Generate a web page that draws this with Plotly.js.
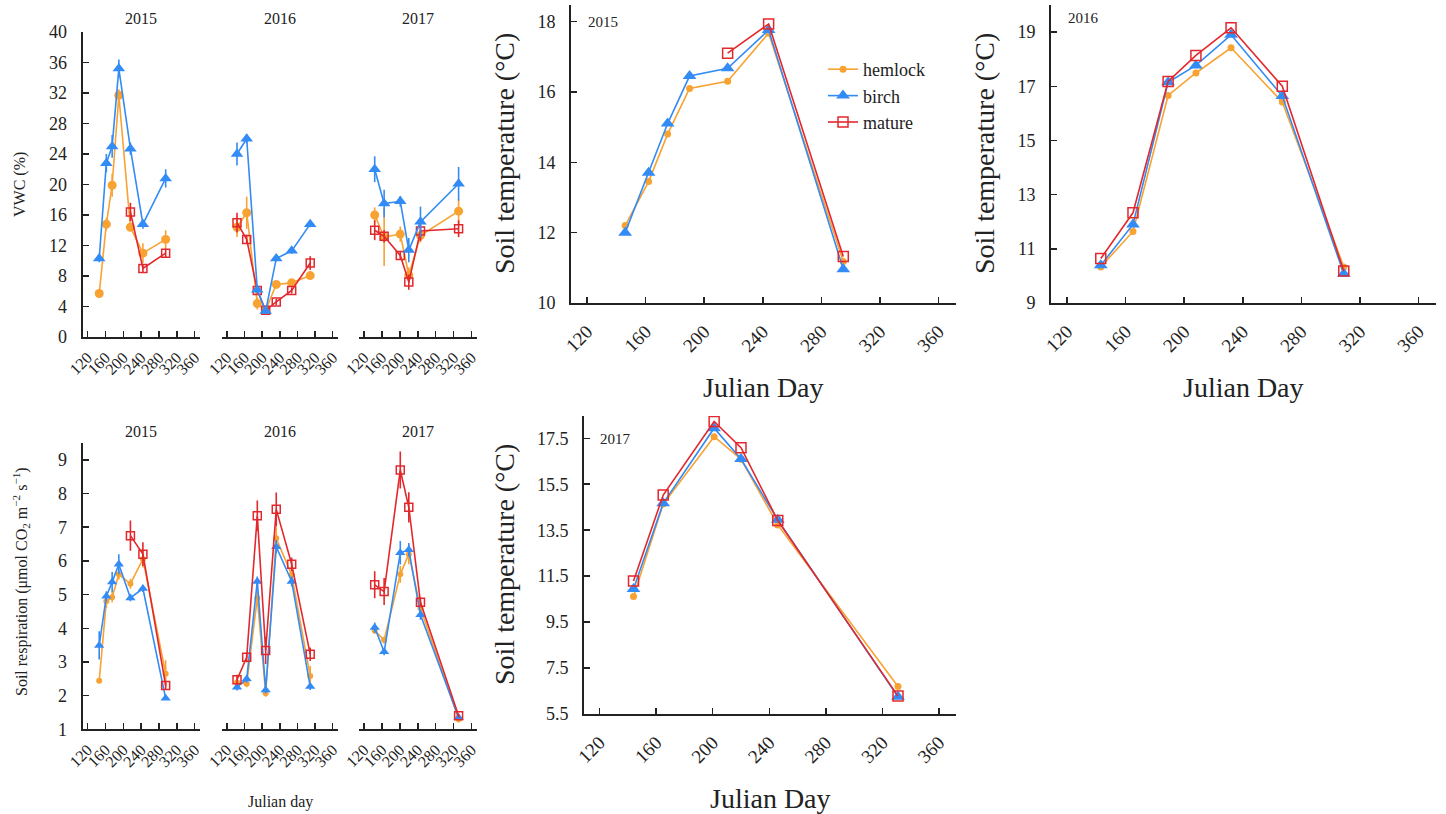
<!DOCTYPE html>
<html><head><meta charset="utf-8">
<script src="https://cdn.plot.ly/plotly-3.0.1.min.js"></script>
<style>html,body{margin:0;padding:0;background:#fff}#chart{width:1446px;height:814px}</style>
</head><body><div id="chart"></div>
<script>
// ---- Julian days of sampling ----
const days2015 = [146, 162, 175, 190, 216, 244, 295];
const days2016 = [143, 165, 189, 208, 232, 267, 309];
const days2017 = [144, 165, 201, 220, 246, 331];

// ---- VWC (%) ----
const vwcHemlock2015 = [5.7, 14.8, 19.9, 31.7, 14.4, 11.0, 12.8];
const vwcBirch2015   = [10.3, 22.8, 25.0, 35.2, 24.7, 14.8, 20.8];
const vwcMature2015  = [null, null, null, null, 16.4, 9.0, 11.0];
const vwcHemlockErr2015 = [0.3, 0.8, 1.5, 0.8, 0.5, 1.3, 1.2];
const vwcBirchErr2015   = [0.5, 1.2, 1.5, 1.2, 0.8, 0.6, 1.2];
const vwcMatureErr2015  = [0, 0, 0, 0, 1.2, 0.5, 0.6];

const vwcHemlock2016 = [14.4, 16.3, 4.4, 3.5, 6.9, 7.1, 8.05];
const vwcBirch2016   = [24.0, 26.0, 6.2, 3.4, 10.3, 11.3, 14.8];
const vwcMature2016  = [15.0, 12.8, 6.1, 3.5, 4.6, 6.1, 9.7];
const vwcHemlockErr2016 = [1.3, 2.1, 0.8, 0.4, 0.4, 0.4, 0.4];
const vwcBirchErr2016   = [1.5, 0.6, 0.4, 0.4, 0.4, 0.4, 0.4];
const vwcMatureErr2016  = [1.3, 0.6, 0.4, 0.4, 0.4, 0.4, 0.9];

const vwcHemlock2017 = [16.0, 13.1, 13.5, 8.1, 13.3, 16.5];
const vwcBirch2017   = [22.0, 17.5, 17.8, 11.4, 15.1, 20.1];
const vwcMature2017  = [14.0, 13.2, 10.7, 7.2, 13.9, 14.2];
const vwcHemlockErr2017 = [1.0, 3.8, 1.0, 1.0, 0.9, 1.6];
const vwcBirchErr2017   = [1.7, 1.8, 0.7, 1.6, 2.0, 2.2];
const vwcMatureErr2017  = [1.3, 0.8, 0.6, 1.0, 1.3, 1.1];

// ---- Soil respiration (umol CO2 m-2 s-1) ----
const resHemlock2015 = [2.44, 4.8, 4.92, 5.6, 5.32, 6.05, 2.65];
const resBirch2015   = [3.49, 4.95, 5.37, 5.9, 4.9, 5.18, 1.92];
const resMature2015  = [null, null, null, null, 6.75, 6.2, 2.3];
const resHemlockErr2015 = [0, 0.2, 0.15, 0.15, 0.15, 0.25, 0.4];
const resBirchErr2015   = [0.42, 0.15, 0.3, 0.3, 0.1, 0.1, 0.05];
const resMatureErr2015  = [0, 0, 0, 0, 0.45, 0.35, 0.1];

const resHemlock2016 = [2.39, 2.35, 4.9, 2.07, 6.67, 5.58, 2.58];
const resBirch2016   = [2.25, 2.49, 5.39, 2.17, 6.42, 5.39, 2.27];
const resMature2016  = [2.47, 3.14, 7.34, 3.34, 7.53, 5.9, 3.23];
const resHemlockErr2016 = [0.1, 0.1, 0.2, 0.1, 0.35, 0.15, 0.3];
const resBirchErr2016   = [0.1, 0.1, 0.15, 0.1, 0.2, 0.15, 0.1];
const resMatureErr2016  = [0.15, 0.15, 0.45, 0.4, 0.5, 0.2, 0.2];

const resHemlock2017 = [3.93, 3.65, 5.6, 6.2, 4.6, 1.3];
const resBirch2017   = [4.02, 3.3, 6.24, 6.33, 4.4, 1.35];
const resMature2017  = [5.29, 5.09, 8.7, 7.59, 4.77, 1.4];
const resHemlockErr2017 = [0.1, 0.1, 0.25, 0.3, 0.15, 0.1];
const resBirchErr2017   = [0.15, 0.1, 0.35, 0.2, 0.15, 0.05];
const resMatureErr2017  = [0.4, 0.4, 0.55, 0.45, 0.15, 0.05];

// ---- Soil temperature (°C) ----
const tmpHemlock2015 = [12.2, 13.45, 14.8, 16.1, 16.3, 17.67, 11.18];
const tmpBirch2015   = [12.0, 13.7, 15.1, 16.45, 16.67, 17.76, 10.96];
const tmpMature2015  = [null, null, null, null, 17.1, 17.93, 11.32];

const tmpHemlock2016 = [10.33, 11.64, 16.66, 17.49, 18.42, 16.42, 10.33];
const tmpBirch2016   = [10.39, 11.9, 17.15, 17.77, 18.9, 16.64, 10.08];
const tmpMature2016  = [10.64, 12.33, 17.18, 18.14, 19.16, 17.0, 10.18];

const tmpHemlock2017 = [10.61, 14.64, 17.57, 16.59, 13.73, 6.7];
const tmpBirch2017   = [10.94, 14.67, 17.94, 16.6, 13.95, 6.25];
const tmpMature2017  = [11.29, 15.03, 18.23, 17.09, 13.92, 6.28];

const seriesNames = ['hemlock', 'birch', 'mature'];
const xTickVals = [120, 160, 200, 240, 280, 320, 360];

// ---- styling ----
const C = {hemlock: '#F8A232', birch: '#338BF5', mature: '#E2282C'};
const FONT = 'Liberation Serif';
const W = 1446, H = 814;
const px = v => v / W, py = v => 1 - v / H;

function mk(name, x, y, err, ax, kind, showlegend) {
  const sizes = {
    small: {hemlock: 9, birch: 11, mature: 8},
    res:   {hemlock: 6, birch: 9, mature: 8},
    temp:  {hemlock: 7, birch: 12, mature: 10}
  }[kind];
  const sym = {hemlock: 'circle', birch: 'triangle-up', mature: 'square-open'}[name];
  const t = {
    type: 'scatter', mode: 'lines+markers', name: name, x: x, y: y,
    xaxis: 'x' + ax, yaxis: 'y' + ax, showlegend: !!showlegend, legendgroup: name,
    line: {color: C[name], width: 1.6},
    marker: {symbol: sym, size: sizes[name], color: C[name], line: {color: C[name], width: name === 'mature' ? 1.5 : 0}},
    connectgaps: false, hoverinfo: 'x+y'
  };
  if (err) t.error_y = {type: 'data', array: err, visible: true, color: C[name], thickness: 1.6, width: 0};
  return t;
}

const traces = [];
// VWC
[[days2015, vwcHemlock2015, vwcBirch2015, vwcMature2015, vwcHemlockErr2015, vwcBirchErr2015, vwcMatureErr2015, ''],
 [days2016, vwcHemlock2016, vwcBirch2016, vwcMature2016, vwcHemlockErr2016, vwcBirchErr2016, vwcMatureErr2016, '2'],
 [days2017, vwcHemlock2017, vwcBirch2017, vwcMature2017, vwcHemlockErr2017, vwcBirchErr2017, vwcMatureErr2017, '3']
].forEach(p => {
  traces.push(mk('hemlock', p[0], p[1], p[4], p[7], 'small'));
  traces.push(mk('mature', p[0], p[3], p[6], p[7], 'small'));
  traces.push(mk('birch', p[0], p[2], p[5], p[7], 'small'));
});
// respiration
[[days2015, resHemlock2015, resBirch2015, resMature2015, resHemlockErr2015, resBirchErr2015, resMatureErr2015, '4'],
 [days2016, resHemlock2016, resBirch2016, resMature2016, resHemlockErr2016, resBirchErr2016, resMatureErr2016, '5'],
 [days2017, resHemlock2017, resBirch2017, resMature2017, resHemlockErr2017, resBirchErr2017, resMatureErr2017, '6']
].forEach(p => {
  traces.push(mk('hemlock', p[0], p[1], p[4], p[7], 'res'));
  traces.push(mk('birch', p[0], p[2], p[5], p[7], 'res'));
  traces.push(mk('mature', p[0], p[3], p[6], p[7], 'res'));
});
// temperature
[[days2015, tmpHemlock2015, tmpBirch2015, tmpMature2015, '7', true],
 [days2016, tmpHemlock2016, tmpBirch2016, tmpMature2016, '8', false],
 [days2017, tmpHemlock2017, tmpBirch2017, tmpMature2017, '9', false]
].forEach(p => {
  traces.push(mk('hemlock', p[0], p[1], null, p[4], 'temp', p[5]));
  traces.push(mk('birch', p[0], p[2], null, p[4], 'temp', p[5]));
  traces.push(mk('mature', p[0], p[3], null, p[4], 'temp', p[5]));
});

function xax(domain, anchor, fs, standoff) {
  return {
    domain: domain, anchor: anchor, range: [109, 372], tickvals: xTickVals, ticktext: xTickVals.map(String),
    tickangle: -45, ticks: 'inside', ticklen: 6, tickwidth: 1.5, tickcolor: '#222',
    showline: true, linecolor: '#222', linewidth: 2, showgrid: false, zeroline: false,
    tickfont: {family: FONT, size: fs, color: '#222'}, ticklabelstandoff: standoff
  };
}
function yax(domain, anchor, range, tickvals, fs, visible, fmt) {
  const tv = visible ? tickvals : [];
  return {
    domain: domain, anchor: anchor, range: range, tickvals: tv,
    ticktext: tv.map(v => fmt ? v.toFixed(1) : String(v)),
    ticks: visible ? 'inside' : '', ticklen: 6, tickwidth: 1.5, tickcolor: '#222',
    showline: visible, linecolor: '#222', linewidth: 2, showgrid: false, zeroline: false,
    showticklabels: visible, tickfont: {family: FONT, size: fs, color: '#222'}, ticklabelstandoff: 10
  };
}

const dxV15 = [px(82.7), px(200)], dxV16 = [px(222), px(338)], dxV17 = [px(359), px(477)];
const dyV = [py(337), py(32)], dyR = [py(729.3), py(443)];
const dxT15 = [px(571), px(956)], dxT16 = [px(1051), px(1436)], dxT17 = [px(584), px(956)];
const dyT = [py(303), py(5)], dyT17 = [py(714), py(416)];

const vwcTicks = [0, 4, 8, 12, 16, 20, 24, 28, 32, 36, 40];
const resTicks = [1, 2, 3, 4, 5, 6, 7, 8, 9];

const layout = {
  width: W, height: H, margin: {l: 0, r: 0, t: 0, b: 0},
  paper_bgcolor: '#fff', plot_bgcolor: 'rgba(0,0,0,0)',
  font: {family: FONT, color: '#222'},
  xaxis: xax(dxV15, 'y', 16, 3), yaxis: yax(dyV, 'x', [0, 40], vwcTicks, 18, true),
  xaxis2: xax(dxV16, 'y2', 16, 3), yaxis2: yax(dyV, 'x2', [0, 40], vwcTicks, 18, false),
  xaxis3: xax(dxV17, 'y3', 16, 3), yaxis3: yax(dyV, 'x3', [0, 40], vwcTicks, 18, false),
  xaxis4: xax(dxV15, 'y4', 16, 3), yaxis4: yax(dyR, 'x4', [1, 9.5], resTicks, 18, true),
  xaxis5: xax(dxV16, 'y5', 16, 3), yaxis5: yax(dyR, 'x5', [1, 9.5], resTicks, 18, false),
  xaxis6: xax(dxV17, 'y6', 16, 3), yaxis6: yax(dyR, 'x6', [1, 9.5], resTicks, 18, false),
  xaxis7: xax(dxT15, 'y7', 19, 8), yaxis7: yax(dyT, 'x7', [10, 18.47], [10, 12, 14, 16, 18], 18, true),
  xaxis8: xax(dxT16, 'y8', 19, 8), yaxis8: yax(dyT, 'x8', [9, 20], [9, 11, 13, 15, 17, 19], 18, true),
  xaxis9: xax(dxT17, 'y9', 19, 8), yaxis9: yax(dyT17, 'x9', [5.5, 18.47], [5.5, 7.5, 9.5, 11.5, 13.5, 15.5, 17.5], 18, true, true),
  showlegend: true,
  legend: {x: px(823), y: py(51), xanchor: 'left', yanchor: 'top', bgcolor: 'rgba(0,0,0,0)',
           font: {family: FONT, size: 18, color: '#222'}, itemwidth: 30, tracegroupgap: 0, traceorder: 'normal'},
  annotations: []
};

function ann(text, x, y, size, angle, extra) {
  layout.annotations.push(Object.assign({text: text, x: px(x), y: py(y), xref: 'paper', yref: 'paper',
    xanchor: 'center', yanchor: 'middle', showarrow: false, textangle: angle || 0,
    font: {family: FONT, size: size, color: '#222'}}, extra || {}));
}
// small panel year titles
ann('2015', 141, 18, 16); ann('2016', 280, 18, 16); ann('2017', 418, 18, 16);
ann('2015', 141, 432, 16); ann('2016', 280, 432, 16); ann('2017', 418, 432, 16);
ann('VWC (%)', 20, 185, 16, -90);
ann('Soil respiration (μmol CO<sub>2</sub> m<sup>−2</sup> s<sup>−1</sup>)', 21, 582, 16, -90);
ann('Julian day', 280, 802, 16);
// temperature panels
ann('2015', 603, 22, 15); ann('2016', 1083, 18, 15); ann('2017', 615, 439, 15);
ann('Soil temperature (°C)', 504, 154, 28, -90);
ann('Soil temperature (°C)', 984, 154, 28, -90);
ann('Soil temperature (°C)', 504, 565, 28, -90);
ann('Julian Day', 763, 387, 28); ann('Julian Day', 1243, 387, 28); ann('Julian Day', 770, 798, 28);

Plotly.newPlot('chart', traces, layout, {staticPlot: true, displayModeBar: false});
</script></body></html>
